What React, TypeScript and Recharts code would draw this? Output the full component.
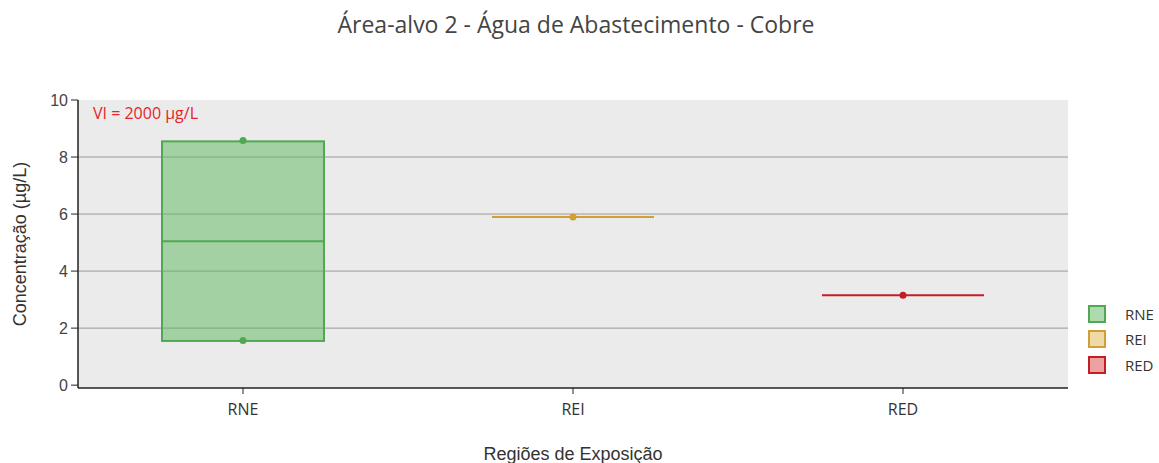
import {
  ComposedChart, Bar, Scatter, XAxis, YAxis, CartesianGrid,
} from "recharts";

const categories = ["RNE", "REI", "RED"];
const q1Values = [1.55, 5.9, 3.15];
const medianValues = [5.05, 5.9, 3.15];
const q3Values = [8.55, 5.9, 3.15];
const highPoints = [8.58, 5.9, 3.15];
const lowPoints: (number | null)[] = [1.57, null, null];
const yTicks = [0, 2, 4, 6, 8, 10];
const gridValues = [2, 4, 6, 8];

const COLORS: Record<string, { stroke: string; fill: string }> = {
  RNE: { stroke: "#52a852", fill: "rgba(92,184,92,0.5)" },
  REI: { stroke: "#d1a032", fill: "rgba(222,180,80,0.5)" },
  RED: { stroke: "#c41e24", fill: "rgba(220,70,70,0.5)" },
};

const data = categories.map((name, i) => ({
  name,
  box: [q1Values[i], q3Values[i]],
  q1: q1Values[i],
  median: medianValues[i],
  q3: q3Values[i],
  high: highPoints[i],
  low: lowPoints[i],
}));

const FONT = "'Open Sans', sans-serif";
const ARIAL = "'Liberation Sans', Arial, sans-serif";

function BoxShape(props: any) {
  const { x, y, width, height, payload } = props;
  const c = COLORS[payload.name];
  const range = payload.q3 - payload.q1;
  const my = range > 0 ? y + (height * (payload.q3 - payload.median)) / range : y;
  return (
    <g>
      <rect x={x} y={y} width={width} height={Math.max(height, 0)} fill={c.fill} stroke={c.stroke} strokeWidth={2} />
      <line x1={x} x2={x + width} y1={my} y2={my} stroke={c.stroke} strokeWidth={2} />
    </g>
  );
}

function Dot(props: any) {
  const { cx, cy, payload } = props;
  if (cx == null || cy == null || isNaN(cy)) return <g />;
  return <circle cx={cx} cy={cy} r={3.5} fill={COLORS[payload.name].stroke} />;
}

export default function App() {
  return (
    <div style={{ position: "absolute", left: 0, top: 0, width: 1159, height: 463, background: "#fff", fontFamily: FONT }}>
      <div style={{ position: "absolute", top: 8, left: 0, width: 1152, textAlign: "center", fontSize: 23, color: "#444" }}>
        Área-alvo 2 - Água de Abastecimento - Cobre
      </div>
      <ComposedChart width={1159} height={463} data={data} margin={{ top: 100, right: 91, bottom: 0, left: 0 }}>
        <CartesianGrid fill="#ebebeb" vertical={false} horizontalValues={gridValues} stroke="#999" strokeWidth={1} />
        <XAxis
          dataKey="name"
          height={75}
          tickSize={6}
          tickMargin={10}
          tick={{ fill: "#333", fontSize: 16, fontFamily: FONT }}
          axisLine={{ stroke: "#222", strokeWidth: 1.5 }}
          tickLine={{ stroke: "#222" }}
          label={{ value: "Regiões de Exposição", position: "insideBottom", offset: 3, style: { fill: "#333", fontSize: 18, fontFamily: ARIAL } }}
        />
        <YAxis
          type="number"
          domain={[-0.1, 10]}
          ticks={yTicks}
          width={78}
          tickSize={7}
          tickMargin={3}
          tick={{ fill: "#444", fontSize: 16, fontFamily: ARIAL }}
          axisLine={{ stroke: "#222", strokeWidth: 1.5 }}
          tickLine={{ stroke: "#222" }}
          label={{ value: "Concentração (µg/L)", angle: -90, position: "insideLeft", offset: 20, style: { textAnchor: "middle", fill: "#333", fontSize: 18, fontFamily: ARIAL } }}
        />
        <Bar dataKey="box" barSize={162} shape={BoxShape} isAnimationActive={false} />
        <Scatter dataKey="high" shape={Dot} isAnimationActive={false} />
        <Scatter dataKey="low" shape={Dot} isAnimationActive={false} />
      </ComposedChart>
      <div style={{ position: "absolute", left: 93, top: 102, fontSize: 16, color: "#e8222a" }}>VI = 2000 µg/L</div>
      <div style={{ position: "absolute", left: 1088, top: 301, fontSize: 15, color: "#333" }}>
        {categories.map((name) => (
          <div key={name} style={{ display: "flex", alignItems: "center", height: 25.5 }}>
            <span style={{ display: "inline-block", width: 14, height: 14, border: `2px solid ${COLORS[name].stroke}`, background: COLORS[name].fill, marginRight: 19 }} />
            {name}
          </div>
        ))}
      </div>
    </div>
  );
}
